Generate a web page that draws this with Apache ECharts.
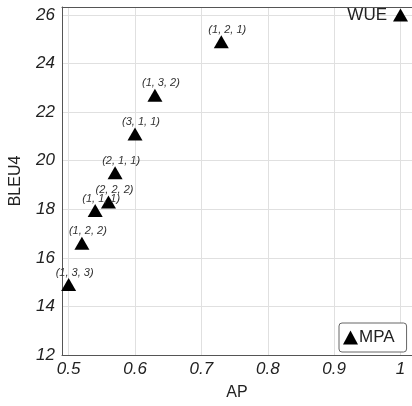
<!DOCTYPE html>
<html>
<head>
<meta charset="utf-8">
<script src="https://cdn.jsdelivr.net/npm/echarts@6/dist/echarts.min.js"></script>
<style>html,body{margin:0;padding:0;background:#fff}#c{width:412px;height:406px}</style>
</head>
<body>
<div id="c"></div>
<script>
const mpaAP = [0.50, 0.52, 0.54, 0.56, 0.57, 0.60, 0.63, 0.73];
const mpaBLEU4 = [14.9, 16.6, 17.95, 18.3, 19.5, 21.1, 22.7, 24.9];
const mpaLabels = ['(1, 3, 3)', '(1, 2, 2)', '(1, 1, 1)', '(2, 2, 2)', '(2, 1, 1)', '(3, 1, 1)', '(1, 3, 2)', '(1, 2, 1)'];
const wueAP = [1.0];
const wueBLEU4 = [26.0];
const xTicks = [0.5, 0.6, 0.7, 0.8, 0.9, 1.0];
const xTickLabels = ['0.5', '0.6', '0.7', '0.8', '0.9', '1'];
const yTicks = [12, 14, 16, 18, 20, 22, 24, 26];
const yTickLabels = ['12', '14', '16', '18', '20', '22', '24', '26'];

const chart = echarts.init(document.getElementById('c'), null, {renderer: 'canvas'});
const fontFam = 'Liberation Sans, Arial, sans-serif';
const XMIN = 0.49, XMAX = 1.0173;
const border = {show: true, lineStyle: {color: '#555', width: 1}};
chart.setOption({
  animation: false,
  backgroundColor: '#fff',
  grid: {left: 62, top: 7, right: 0, bottom: 47, show: false, containLabel: false},
  xAxis: [{
    type: 'value', min: XMIN, max: XMAX,
    name: 'AP', nameLocation: 'middle', nameGap: 30,
    nameTextStyle: {fontSize: 16, color: '#222', fontFamily: fontFam},
    axisLine: border,
    axisTick: {show: false, customValues: xTicks},
    axisLabel: {customValues: xTicks, formatter: v => xTickLabels[xTicks.findIndex(t => Math.abs(t - v) < 1e-6)] ?? '',
      fontSize: 17, fontStyle: 'italic', color: '#222', fontFamily: fontFam, margin: 6},
    splitLine: {show: true, lineStyle: {color: '#e0e0e0', width: 1}}
  }, {
    type: 'value', position: 'top', min: XMIN, max: XMAX,
    axisLine: border, axisTick: {show: false}, axisLabel: {show: false}, splitLine: {show: false}
  }],
  yAxis: {
    type: 'value', min: 12, max: 26.33,
    name: 'BLEU4', nameLocation: 'middle', nameGap: 38,
    nameTextStyle: {fontSize: 16, color: '#222', fontFamily: fontFam},
    axisLine: border,
    axisTick: {show: false, customValues: yTicks},
    axisLabel: {customValues: yTicks, formatter: v => yTickLabels[yTicks.findIndex(t => Math.abs(t - v) < 1e-6)] ?? '',
      fontSize: 17, fontStyle: 'italic', color: '#222', fontFamily: fontFam, margin: 7},
    splitLine: {show: true, lineStyle: {color: '#e0e0e0', width: 1}}
  },
  legend: {
    data: [{name: 'MPA', icon: 'triangle'}],
    left: 339, top: 323,
    padding: [6, 12, 6, 4],
    itemWidth: 15, itemHeight: 14, itemGap: 2,
    borderColor: '#666', borderWidth: 1, borderRadius: 3,
    backgroundColor: '#fff',
    itemStyle: {opacity: 1, color: '#000'},
    textStyle: {fontSize: 17, color: '#222', fontFamily: fontFam, padding: [0, 0, 0, -4]}
  },
  series: [
    {
      name: 'MPA', type: 'scatter', symbol: 'triangle', symbolSize: [15, 13],
      itemStyle: {color: '#000', opacity: 1},
      data: mpaAP.map((x, i) => ({value: [x, mpaBLEU4[i]], label: {formatter: mpaLabels[i]}})),
      label: {show: true, position: 'top', distance: 0, offset: [6, 0],
        fontSize: 11, fontStyle: 'italic', color: '#333', fontFamily: fontFam},
      z: 3
    },
    {
      name: 'WUE', type: 'scatter', symbol: 'triangle', symbolSize: [15, 13],
      itemStyle: {color: '#000', opacity: 1},
      data: wueAP.map((x, i) => [x, wueBLEU4[i]]),
      label: {show: true, position: 'left', distance: 6, formatter: 'WUE',
        fontSize: 17, color: '#222', fontFamily: fontFam},
      z: 3
    }
  ]
});
</script>
</body>
</html>
